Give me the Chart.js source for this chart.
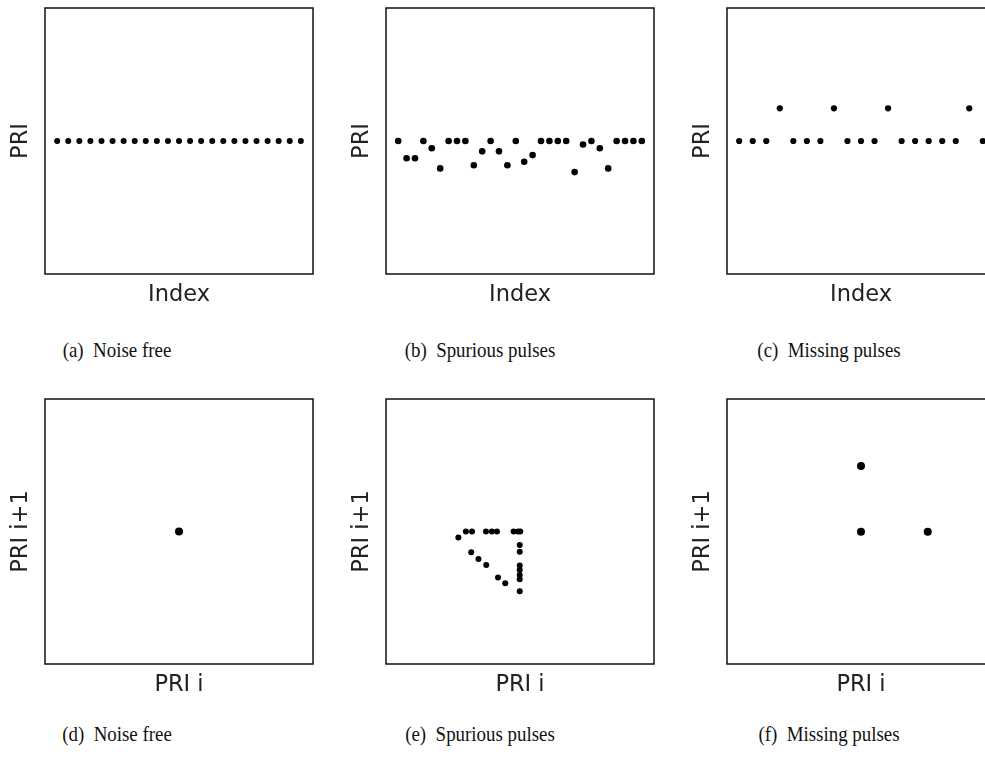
<!DOCTYPE html>
<html lang="en">
<head>
<meta charset="UTF-8">
<title>PRI panels</title>
<script src="https://cdn.jsdelivr.net/npm/chart.js@4.4.1/dist/chart.umd.min.js"></script>
<style>
  html, body { margin: 0; padding: 0; background: #fff; }
  body { width: 985px; height: 765px; position: relative; overflow: hidden; }
  .panel { position: absolute; }
  .cap {
    position: absolute; width: 300px; text-align: center; white-space: pre;
    font-family: 'Liberation Serif', 'DejaVu Serif', serif; font-size: 21px; line-height: 22px; color: #111;
    transform: scaleX(0.9);
  }
</style>
</head>
<body>
<div class="panel" id="pa" style="left:0px;top:0px;width:321px;height:314px"><canvas id="ca"></canvas></div>
<div class="panel" id="pb" style="left:341px;top:0px;width:321px;height:314px"><canvas id="cb"></canvas></div>
<div class="panel" id="pc" style="left:682px;top:0px;width:321px;height:314px"><canvas id="cc"></canvas></div>
<div class="panel" id="pd" style="left:0px;top:391px;width:321px;height:313px"><canvas id="cd"></canvas></div>
<div class="panel" id="pe" style="left:341px;top:391px;width:321px;height:313px"><canvas id="ce"></canvas></div>
<div class="panel" id="pf" style="left:682px;top:391px;width:321px;height:313px"><canvas id="cf"></canvas></div>

<div class="cap" style="left:-33px;top:339px">(a)  Noise free</div>
<div class="cap" style="left:330px;top:339px">(b)  Spurious pulses</div>
<div class="cap" style="left:679px;top:339px">(c)  Missing pulses</div>
<div class="cap" style="left:-33px;top:723px">(d)  Noise free</div>
<div class="cap" style="left:330px;top:723px">(e)  Spurious pulses</div>
<div class="cap" style="left:679px;top:723px">(f)  Missing pulses</div>

<script>
// PRI sequences (top row), plotted against pulse index 1..n
const priNoiseFree = [5,5,5,5,5,5,5,5,5,5,5,5,5,5,5,5,5,5,5,5,5,5,5];
const priSpurious = [5,4.35,4.35,5,4.73,3.97,5,5,5,4.09,4.61,5,4.61,4.09,5,
                     4.22,4.47,5,5,5,5,3.83,4.87,5,4.73,3.97,5,5,5,5];
const priMissing = [5,5,5,6.23,5,5,5,6.23,5,5,5,6.23,5,5,5,5,5,6.23,5];

// return maps (bottom row): PRI i against PRI i+1
const mapNoiseFreeX = [5];
const mapNoiseFreeY = [5];
const mapSpuriousX = [2.98,3.21,3.73,3.95,4.14,4.76,4.93,5.01,2.70,
                      4.99,4.99,4.99,4.99,4.99,4.99,4.99,
                      3.18,3.45,3.74,4.18,4.45];
const mapSpuriousY = [5,5,5,5,5,5,5,5,4.77,
                      4.49,4.24,3.72,3.55,3.36,3.20,2.75,
                      4.22,3.96,3.74,3.26,3.05];
const mapMissingX = [5,5,7.49];
const mapMissingY = [4.99,7.47,4.99];

const frameBox = {
  id: 'frameBox',
  afterDraw(chart) {
    const {ctx, chartArea: a} = chart;
    ctx.save();
    ctx.strokeStyle = '#111';
    ctx.lineWidth = 1.5;
    ctx.strokeRect(a.left, a.top, a.right - a.left, a.bottom - a.top);
    ctx.restore();
  }
};

function seq(vals) {
  return vals.map((v, i) => ({x: i + 1, y: v}));
}
function pairs(xs, ys) {
  return xs.map((x, i) => ({x: x, y: ys[i]}));
}

const titleFont = {family: 'DejaVu Sans', size: 22.5};

function makePanel(id, points, radius, xr, xLabel, yLabel) {
  new Chart(document.getElementById(id), {
    type: 'scatter',
    data: {
      datasets: [{
        data: points,
        backgroundColor: '#000',
        borderWidth: 0,
        pointRadius: radius,
        pointHoverRadius: radius
      }]
    },
    options: {
      responsive: true,
      maintainAspectRatio: false,
      animation: false,
      events: [],
      layout: {padding: {top: 8, right: 8, left: 0, bottom: 0}},
      plugins: {legend: {display: false}, tooltip: {enabled: false}},
      scales: {
        x: {
          type: 'linear', min: xr[0], max: xr[1],
          grid: {display: false}, border: {display: false}, ticks: {display: false},
          title: {display: true, text: xLabel, color: '#222', font: titleFont, padding: {top: 0, bottom: 5}},
          afterFit: (s) => { s.height = 40; }
        },
        y: {
          type: 'linear', min: 0, max: 10,
          grid: {display: false}, border: {display: false}, ticks: {display: false},
          title: {display: true, text: yLabel, color: '#222', font: titleFont, padding: {top: 8, bottom: 0}},
          afterFit: (s) => { s.width = 45; }
        }
      }
    },
    plugins: [frameBox]
  });
}

makePanel('ca', seq(priNoiseFree), 3, [-0.1, 24.1], 'Index', 'PRI');
makePanel('cb', seq(priSpurious), 3.3, [-0.45, 31.45], 'Index', 'PRI');
makePanel('cc', seq(priMissing), 3.1, [0.1, 19.9], 'Index', 'PRI');
makePanel('cd', pairs(mapNoiseFreeX, mapNoiseFreeY), 4, [0, 10], 'PRI i', 'PRI i+1');
makePanel('ce', pairs(mapSpuriousX, mapSpuriousY), 3, [0, 10], 'PRI i', 'PRI i+1');
makePanel('cf', pairs(mapMissingX, mapMissingY), 4, [0, 10], 'PRI i', 'PRI i+1');
</script>
</body>
</html>
